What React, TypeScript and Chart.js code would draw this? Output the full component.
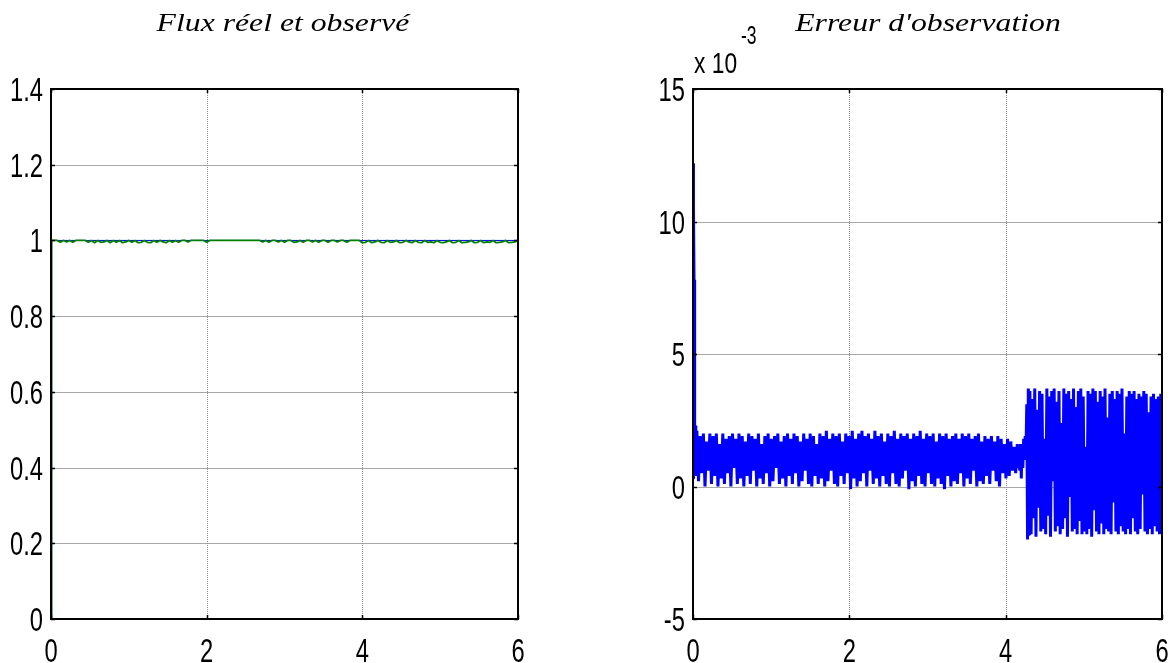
import React, { useEffect, useRef } from "react";
import { Chart, registerables } from "chart.js";

Chart.register(...registerables);

// Axis ticks
const timeTicks = [0, 2, 4, 6];
const timeTickLabels = ["0", "2", "4", "6"];
const fluxTicks = [0, 0.2, 0.4, 0.6, 0.8, 1, 1.2, 1.4];
const fluxTickLabels = ["0", "0.2", "0.4", "0.6", "0.8", "1", "1.2", "1.4"];
const errTicks = [-5, 0, 5, 10, 15];
const errTickLabels = ["-5", "0", "5", "10", "15"];

// Real flux (Wb) against time (s)
const realFluxT = [0, 0.006, 0.012, 6];
const realFluxV = [0, 0.7, 1, 1];

// Observed flux: start-up samples, then a regular sampling grid
const obsStartT = [0, 0.004, 0.01, 0.02];
const obsStartV = [0, 0.6, 1, 1];
const OBS_T0 = 0.04;
const OBS_DT = 0.04;
const obsFlux = [
  1, 1, 0.995, 1, 0.996, 1, 0.995, 1, 1, 1,
  1, 0.995, 1, 0.994, 1, 0.995, 0.996, 1, 0.994, 1,
  0.995, 1, 0.994, 0.996, 1, 0.995, 1, 0.994, 0.995, 1,
  0.995, 0.994, 1, 0.995, 1, 0.996, 0.994, 1, 0.995, 1,
  0.995, 1, 1, 0.996, 1, 1, 1, 1, 1, 0.995,
  1, 1, 1, 1, 1, 1, 1, 1, 1, 1,
  1, 1, 1, 1, 1, 1, 1, 0.996, 1, 0.995,
  1, 1, 0.996, 1, 0.995, 1, 1, 0.995, 0.996, 1,
  0.995, 1, 1, 0.996, 1, 0.995, 1, 1, 0.995, 1,
  1, 0.996, 1, 1, 0.995, 1, 1, 1, 1, 0.994,
  0.995, 1, 0.994, 0.996, 1, 0.995, 0.994, 1, 0.995, 0.996,
  1, 0.994, 0.995, 1, 0.996, 0.994, 1, 0.995, 0.994, 1,
  0.995, 0.996, 0.994, 1, 0.995, 0.994, 0.996, 1, 0.994, 0.995,
  1, 0.994, 0.995, 0.996, 1, 0.994, 0.995, 1, 0.994, 0.996,
  0.995, 1, 0.994, 0.995, 0.996, 1, 0.994, 0.995, 0.996, 1,
];

// Observation error (x 10^-3): start-up transient
const errStartT = [0, 0.004, 0.008, 0.013, 0.018, 0.024, 0.03, 0.036, 0.042];
const errStartV = [0.3, 12.2, 10.5, 7.8, 4.6, 1.2, 2.3, 0.4, 1.9];

// Observation error: first operating regime
const ERR_LOW_T0 = 0.05;
const ERR_LOW_DT = 0.0207;
const errLow = [
  2.1, 0.2, 1.9, 0.5, 2.0, 0.0, 1.7, 0.6, 2.0, 0.1, 1.9, 0.4, 2.0, 0.0, 1.6, 0.3, 2.0, 0.1, 1.8, 0.5,
  1.9, 0.0, 2.0, 0.7, 1.8, 0.1, 2.0, 0.3, 1.9, 0.0, 1.7, 0.4, 2.0, 0.1, 1.9, 0.6, 1.8, 0.0, 2.0, 0.3,
  1.6, 0.1, 1.9, 0.5, 2.0, 0.0, 1.8, 0.2, 1.9, 0.7, 2.0, 0.1, 1.7, 0.3, 1.9, 0.0, 2.0, 0.4, 1.8, 0.1,
  2.0, 0.5, 1.9, 0.0, 1.7, 0.2, 2.0, 0.6, 1.8, 0.1, 2.0, 0.0, 1.9, 0.4, 1.6, 0.1, 2.0, 0.3, 1.9, 0.0,
  2.1, 0.2, 1.8, 0.6, 2.0, 0.1, 1.9, 0.0, 2.0, 0.4, 1.7, 0.1, 2.0, 0.5, 1.9, -0.1, 2.1, 0.3, 1.8, 0.0,
  2.0, 0.2, 2.1, 0.5, 1.9, 0.0, 2.0, 0.6, 1.8, 0.1, 2.1, 0.3, 1.9, 0.0, 2.0, 0.4, 1.7, 0.1, 2.0, 0.0,
  1.9, 0.5, 2.1, 0.1, 1.8, 0.0, 2.0, 0.3, 1.9, 0.6, 2.0, -0.1, 1.8, 0.2, 2.0, 0.0, 1.9, 0.4, 2.1, 0.1,
  1.8, 0.0, 2.0, 0.5, 1.9, 0.1, 2.0, 0.0, 1.7, 0.3, 2.0, 0.1, 1.9, -0.1, 2.0, 0.4, 1.8, 0.0, 1.9, 0.2,
  2.0, 0.1, 1.8, 0.5, 2.0, 0.0, 1.9, 0.3, 2.0, 0.1, 1.8, 0.6, 1.9, 0.0, 2.0, 0.2, 1.7, 0.1, 1.9, 0.4,
  1.8, 0.1, 1.9, 0.6, 1.7, 0.2, 1.9, 0.0, 1.8, 0.5, 1.6, 0.3, 1.8, 0.4, 1.7, 0.6, 1.5, 0.5, 1.6, 0.7,
];

// Observation error: change of regime
const ERR_MID_T0 = 4.17;
const ERR_MID_DT = 0.01;
const errMid = [1.4, 0.6, 1.6, 0.3, 1.5, 0.7, 1.8, 1.0, 1.9, 1.3, 3.1, -2.0, 3.7, -1.8];

// Observation error: second operating regime
const ERR_HIGH_T0 = 4.31;
const ERR_HIGH_DT = 0.0155;
const errHigh = [
  3.6, -1.8, 3.3, -1.2, 3.7, -1.9, 2.9, -0.8, 3.6, -1.7,
  3.5, -1.6, 1.8, -1.8, 3.7, -1.1, 3.4, -1.9, 3.6, 0.2,
  3.7, -1.7, 3.2, -1.5, 3.6, -1.8, 2.4, -1.6, 3.7, -1.2,
  3.5, -1.9, 3.6, -0.4, 3.3, -1.7, 3.7, -1.6, 3.0, -1.8,
  3.6, -1.3, 3.7, -1.8, 3.4, -1.7, 1.5, -1.8, 3.6, -1.6,
  3.5, -1.9, 3.7, -0.9, 3.6, -1.7, 3.2, -1.8, 3.6, -1.4,
  3.4, -1.8, 3.7, -1.6, 2.6, -1.7, 3.5, -1.8, 3.6, -0.6,
  3.3, -1.7, 3.6, -1.8, 3.5, -1.5, 3.7, -1.7, 2.0, -1.8,
  3.4, -1.6, 3.6, -1.8, 3.5, -1.2, 3.6, -1.7, 3.3, -1.8,
  3.5, -1.6, 3.4, -0.3, 3.6, -1.7, 3.5, -1.8, 2.8, -1.6,
  3.4, -1.8, 3.5, -1.5, 3.3, -1.7, 3.4, -1.8, 3.5, 0.4,
];

type Pt = { x: number; y: number };

const pairs = (t: number[], v: number[]): Pt[] => v.map((y, i) => ({ x: t[i], y }));
const sampled = (t0: number, dt: number, v: number[]): Pt[] =>
  v.map((y, i) => ({ x: t0 + i * dt, y }));

const SANS = "'Liberation Sans', Arial, sans-serif";
const LABEL_SIZE = 33;
const LABEL_SQUEEZE = 0.72;

// Condensed tick label anchored at (x, baseline)
function condensedText(ctx: CanvasRenderingContext2D, text: string, x: number, y: number, align: "right" | "center") {
  ctx.save();
  ctx.font = `${LABEL_SIZE}px ${SANS}`;
  ctx.textBaseline = "alphabetic";
  ctx.textAlign = align;
  ctx.translate(x, y);
  ctx.scale(LABEL_SQUEEZE, 1);
  ctx.fillText(text, 0, 0);
  ctx.restore();
}

// Grid lines below the data; black box, inward tick marks and labels above it
const framePlugin = {
  id: "matlabFrame",
  beforeDatasetsDraw(chart: any) {
    const { ctx, chartArea: a, scales } = chart;
    ctx.save();
    ctx.lineWidth = 1;
    ctx.strokeStyle = "#a8a8a8";
    for (const t of scales.y.ticks) {
      const y = Math.round(scales.y.getPixelForValue(t.value)) + 0.5;
      ctx.beginPath();
      ctx.moveTo(a.left, y);
      ctx.lineTo(a.right, y);
      ctx.stroke();
    }
    ctx.setLineDash([1, 1]);
    ctx.strokeStyle = "#8c8c8c";
    for (const t of scales.x.ticks) {
      const x = Math.round(scales.x.getPixelForValue(t.value)) + 0.5;
      ctx.beginPath();
      ctx.moveTo(x, a.top);
      ctx.lineTo(x, a.bottom);
      ctx.stroke();
    }
    ctx.restore();
  },
  afterDatasetsDraw(chart: any) {
    const { ctx, chartArea: a, scales } = chart;
    ctx.save();
    ctx.strokeStyle = "#000";
    ctx.lineWidth = 1.5;
    const tl = 4;
    ctx.beginPath();
    for (const t of scales.y.ticks) {
      const y = Math.round(scales.y.getPixelForValue(t.value)) + 0.5;
      ctx.moveTo(a.left, y);
      ctx.lineTo(a.left + tl, y);
      ctx.moveTo(a.right, y);
      ctx.lineTo(a.right - tl, y);
    }
    for (const t of scales.x.ticks) {
      const x = Math.round(scales.x.getPixelForValue(t.value)) + 0.5;
      ctx.moveTo(x, a.bottom);
      ctx.lineTo(x, a.bottom - tl);
      ctx.moveTo(x, a.top);
      ctx.lineTo(x, a.top + tl);
    }
    ctx.stroke();
    ctx.lineWidth = 2;
    ctx.strokeRect(
      Math.round(a.left),
      Math.round(a.top),
      Math.round(a.right - a.left),
      Math.round(a.bottom - a.top)
    );
    ctx.fillStyle = "#000";
    const yLabels: string[] = chart.options.plugins.matlabFrame.yLabels;
    scales.y.ticks.forEach((t: any, i: number) => {
      const y = scales.y.getPixelForValue(t.value);
      condensedText(ctx, yLabels[i], a.left - 8, y + 12, "right");
    });
    scales.x.ticks.forEach((t: any, i: number) => {
      const x = scales.x.getPixelForValue(t.value);
      condensedText(ctx, timeTickLabels[i], x, a.bottom + 43, "center");
    });
    ctx.restore();
  },
};

function makeOptions(
  yMin: number,
  yMax: number,
  yTicks: number[],
  yLabels: string[],
  yWidth: number,
  padRight: number
): any {
  return {
    responsive: false,
    animation: false,
    events: [],
    layout: { padding: { top: 89, right: padRight, bottom: 0, left: 0 } },
    plugins: {
      legend: { display: false },
      tooltip: { enabled: false },
      matlabFrame: { yLabels },
    },
    elements: { point: { radius: 0 }, line: { tension: 0, borderJoinStyle: "bevel" } },
    scales: {
      x: {
        type: "linear",
        min: 0,
        max: 6,
        grid: { display: false, drawTicks: false },
        border: { display: false },
        afterBuildTicks: (s: any) => {
          s.ticks = timeTicks.map((value) => ({ value }));
        },
        afterFit: (s: any) => {
          s.height = 44;
        },
        ticks: { display: false, autoSkip: false, maxRotation: 0 },
      },
      y: {
        type: "linear",
        min: yMin,
        max: yMax,
        grid: { display: false, drawTicks: false },
        border: { display: false },
        afterBuildTicks: (s: any) => {
          s.ticks = yTicks.map((value) => ({ value }));
        },
        afterFit: (s: any) => {
          s.width = yWidth;
        },
        ticks: { display: false, autoSkip: false },
      },
    },
  };
}

function FluxChart() {
  const ref = useRef<HTMLCanvasElement | null>(null);
  useEffect(() => {
    const chart = new Chart(ref.current as HTMLCanvasElement, {
      type: "line",
      data: {
        datasets: [
          {
            label: "Flux observé",
            data: [...pairs(obsStartT, obsStartV), ...sampled(OBS_T0, OBS_DT, obsFlux)],
            borderColor: "#008000",
            borderWidth: 1.8,
            order: 0,
          },
          {
            label: "Flux réel",
            data: pairs(realFluxT, realFluxV),
            borderColor: "#0000ff",
            borderWidth: 1,
            order: 1,
          },
        ],
      },
      options: makeOptions(0, 1.4, fluxTicks, fluxTickLabels, 51, 68),
      plugins: [framePlugin],
    });
    return () => chart.destroy();
  }, []);
  return (
    <canvas
      ref={ref}
      width={586}
      height={663}
      style={{ position: "absolute", left: 0, top: 0, width: 586, height: 663 }}
    />
  );
}

function ErrorChart() {
  const ref = useRef<HTMLCanvasElement | null>(null);
  useEffect(() => {
    const chart = new Chart(ref.current as HTMLCanvasElement, {
      type: "line",
      data: {
        datasets: [
          {
            label: "Erreur",
            data: [
              ...pairs(errStartT, errStartV),
              ...sampled(ERR_LOW_T0, ERR_LOW_DT, errLow),
              ...sampled(ERR_MID_T0, ERR_MID_DT, errMid),
              ...sampled(ERR_HIGH_T0, ERR_HIGH_DT, errHigh),
            ],
            borderColor: "#0000ff",
            borderWidth: 3,
            borderJoinStyle: "bevel",
          },
        ],
      },
      options: makeOptions(-5, 15, errTicks, errTickLabels, 107, 10),
      plugins: [framePlugin],
    });
    return () => chart.destroy();
  }, []);
  return (
    <canvas
      ref={ref}
      width={586}
      height={663}
      style={{ position: "absolute", left: 586, top: 0, width: 586, height: 663 }}
    />
  );
}

const titleStyle = (cx: number): React.CSSProperties => ({
  position: "absolute",
  left: cx - 200,
  top: 10,
  width: 400,
  textAlign: "center",
  fontFamily: "'Liberation Serif', 'Times New Roman', serif",
  fontStyle: "italic",
  fontSize: 26,
  lineHeight: "26px",
  whiteSpace: "nowrap",
  transform: "scaleX(1.22)",
  transformOrigin: "200px 0",
  color: "#000",
});

export default function App() {
  return (
    <div
      style={{
        position: "absolute",
        left: 0,
        top: 0,
        width: 1172,
        height: 663,
        background: "#fff",
        overflow: "hidden",
      }}
    >
      <FluxChart />
      <ErrorChart />
      <div style={titleStyle(283)}>Flux réel et observé</div>
      <div style={titleStyle(928)}>Erreur d'observation</div>
      <div
        style={{
          position: "absolute",
          left: 694,
          top: 48,
          fontFamily: SANS,
          fontSize: 30,
          lineHeight: "30px",
          whiteSpace: "nowrap",
          color: "#000",
          transform: "scaleX(0.76)",
          transformOrigin: "0 0",
        }}
      >
        x 10
      </div>
      <div
        style={{
          position: "absolute",
          left: 741,
          top: 23,
          fontFamily: SANS,
          fontSize: 25,
          lineHeight: "25px",
          whiteSpace: "nowrap",
          color: "#000",
          transform: "scaleX(0.7)",
          transformOrigin: "0 0",
        }}
      >
        -3
      </div>
    </div>
  );
}
